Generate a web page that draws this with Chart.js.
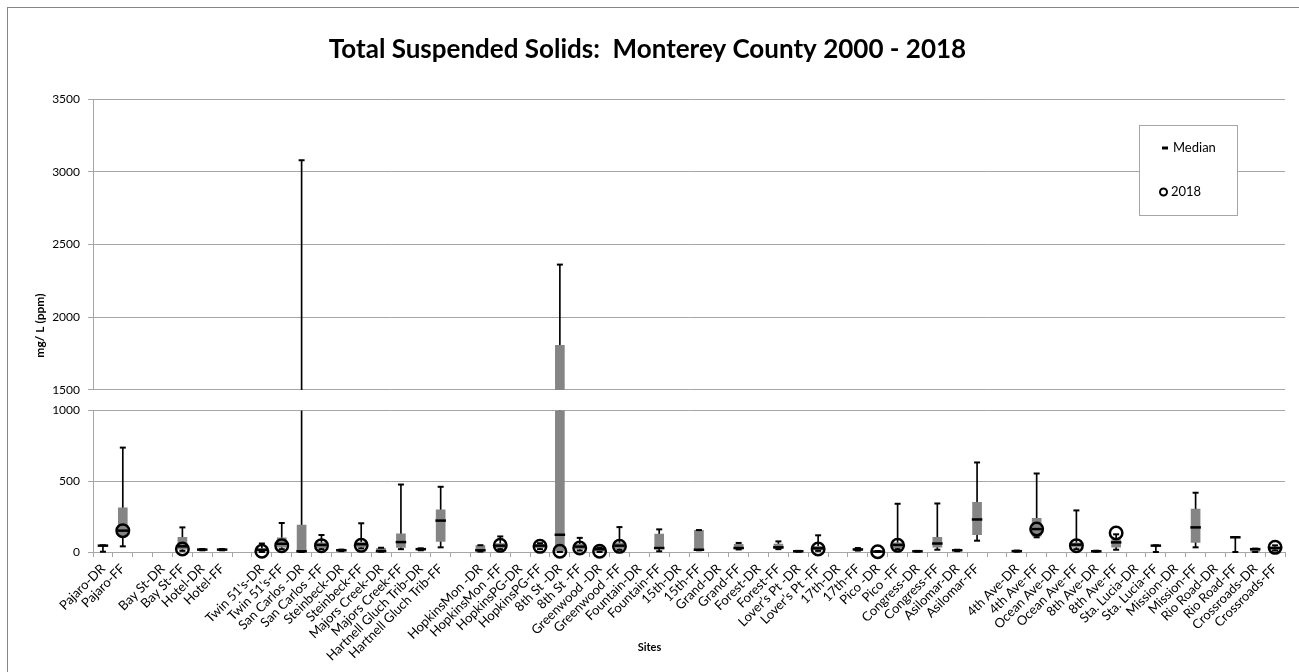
<!DOCTYPE html>
<html>
<head>
<meta charset="utf-8">
<script src="https://cdn.jsdelivr.net/npm/chart.js@4.4.1/dist/chart.umd.min.js"></script>
<style>
  html, body { margin: 0; padding: 0; background: #fff; }
  #wrap { width: 1299px; height: 672px; position: relative; }
</style>
</head>
<body>
<div id="wrap"><canvas id="tssChart"></canvas></div>
<script>
// Sites along the x axis (empty strings are spacer slots)
const sites = [
  'Pajaro-DR', 'Pajaro-FF', '', 'Bay St-DR', 'Bay St-FF', 'Hotel-DR', 'Hotel-FF', '',
  "Twin 51's-DR", "Twin 51's-FF", 'San Carlos -DR', 'San Carlos -FF', 'Steinbeck-DR', 'Steinbeck-FF',
  'Majors Creek-DR', 'Majors Creek-FF', 'Hartnell Gluch Trib-DR', 'Hartnell Gluch Trib-FF', '',
  'HopkinsMon -DR', 'HopkinsMon -FF', 'HopkinsPG-DR', 'HopkinsPG-FF', '8th St -DR', '8th St -FF',
  'Greenwood -DR', 'Greenwood -FF', 'Fountain-DR', 'Fountain-FF', '15th-DR', '15th-FF',
  'Grand-DR', 'Grand-FF', 'Forest-DR', 'Forest-FF', 'Lover\u2019s Pt -DR', 'Lover\u2019s Pt -FF',
  '17th-DR', '17th-FF', 'Pico -DR', 'Pico -FF', 'Congress-DR', 'Congress-FF', 'Asilomar-DR', 'Asilomar-FF', '',
  '4th Ave-DR', '4th Ave-FF', 'Ocean Ave-DR', 'Ocean Ave-FF', '8th Ave-DR', '8th Ave-FF',
  'Sta. Lucia-DR', 'Sta. Lucia-FF', 'Mission-DR', 'Mission-FF', 'Rio Road-DR', 'Rio Road-FF',
  'Crossroads-DR', 'Crossroads-FF'
];

// Box plot statistics, mg/L (null = no data)
const minVals = [2, 40, null, null, 8, 12, 12, null, 0, 20, 0, 20, 6, 25, 2, 20, 12, 33, null,
  3, 20, null, 20, 0, 10, 0, 15, null, 5, null, 12, null, 18, null, 20, 2, 8, null, 10, 0, 20, 2, 16, 6, 80, null,
  2, 104, null, 20, 2, 16, null, 0, null, 33, null, 0, 0, 10];
const q1Vals = [44, 110, null, null, 20, 14, 14, null, 5, 35, 2, 30, 10, 35, 4, 33, 15, 75, null,
  8, 30, null, 30, 5, 20, 5, 25, null, 22, null, 14, null, 22, null, 24, 3, 15, null, 14, 1, 30, 3, 35, 9, 122, null,
  4, 112, null, 35, 4, 35, null, 44, null, 68, null, 102, 4, 20];
const medVals = [45, 151, null, null, 40, 17, 17, null, 15, 58, 5, 50, 12, 55, 6, 70, 20, 222, null,
  12, 45, null, 45, 122, 38, 20, 45, null, 28, null, 16, null, 28, null, 33, 5, 26, null, 18, 3, 50, 5, 60, 12, 230, null,
  6, 162, null, 52, 5, 68, null, 45, null, 174, null, 104, 20, 28];
const q3Vals = [46, 312, null, null, 104, 19, 19, null, 25, 100, 190, 65, 15, 70, 26, 128, 24, 299, null,
  45, 60, null, 55, 1807, 55, 28, 65, null, 127, null, 153, null, 55, null, 56, 6, 40, null, 22, 5, 65, 6, 104, 14, 352, null,
  8, 238, null, 65, 7, 88, null, 46, null, 303, null, 105, 22, 36];
const maxVals = [47, 738, null, null, 174, 21, 21, null, 60, 205, 3080, 120, 17, 203, 30, 477, 26, 461, null,
  48, 110, null, 62, 2362, 100, 32, 176, null, 160, null, 155, null, 64, null, 75, 8, 118, null, 28, 7, 341, 8, 343, 16, 633, null,
  10, 555, null, 294, 9, 125, null, 47, null, 419, null, 106, 24, 47];
const vals2018 = [null, 151, null, null, 21, null, null, null, 5, 45, null, 45, null, 47, null, null, null, null, null,
  null, 47, null, 40, 5, 28, 5, 40, null, null, null, null, null, null, null, null, null, 21, null, null, 2, 47, null, null, null, null, null,
  null, 162, null, 45, null, 134, null, null, null, null, null, null, null, 33];

// Broken y axis: lower part 0-1000, upper part 1500-3500
const yLowTicks = [0, 1000];
const yHighTicks = [1500, 3500];
const LOW_MAX = yLowTicks[1];
const UP_MIN = yHighTicks[0];

const lowRange = (lo, hi) => sites.map((s, i) => lo[i] == null ? null : [lo[i], Math.min(hi[i], LOW_MAX)]);
const upRange = (hi) => sites.map((s, i) => hi[i] > LOW_MAX ? [UP_MIN, hi[i]] : null);

const GRID = '#a6a6a6';
const BOX = '#858585';

Chart.defaults.font.family = 'Lato';
Chart.defaults.color = '#000';

// White background, outer frame, axis titles and the legend box
const decorPlugin = {
  id: 'decor',
  beforeDraw(chart) {
    const ctx = chart.ctx;
    ctx.save();
    ctx.fillStyle = '#fff';
    ctx.fillRect(0, 0, chart.width, chart.height);
    ctx.strokeStyle = '#868686';
    ctx.lineWidth = 1;
    ctx.strokeRect(7.5, 7.5, chart.width + 10, chart.height + 10);
    ctx.restore();
  },
  afterDraw(chart) {
    const ctx = chart.ctx;
    const area = chart.chartArea;
    ctx.save();
    ctx.font = 'bold 11px Lato';
    ctx.fillStyle = '#000';
    ctx.textAlign = 'center';
    ctx.textBaseline = 'middle';
    ctx.fillText('Sites', chart.width / 2, 647);
    // y axis title
    ctx.translate(40, (area.top + area.bottom) / 2);
    ctx.rotate(-Math.PI / 2);
    ctx.font = 'bold 12px Lato';
    ctx.fillText('mg/ L (ppm)', 0, 0);
    ctx.restore();

    // legend
    ctx.save();
    ctx.fillStyle = '#fff';
    ctx.fillRect(1139.5, 125.5, 98, 90);
    ctx.strokeStyle = GRID;
    ctx.lineWidth = 1;
    ctx.strokeRect(1139.5, 125.5, 98, 90);
    ctx.strokeStyle = '#000';
    ctx.lineWidth = 3;
    ctx.beginPath();
    ctx.moveTo(1162, 148);
    ctx.lineTo(1168, 148);
    ctx.stroke();
    ctx.lineWidth = 2;
    ctx.beginPath();
    ctx.arc(1163.5, 192, 3.5, 0, Math.PI * 2);
    ctx.stroke();
    ctx.font = '13px Lato';
    ctx.fillStyle = '#000';
    ctx.textBaseline = 'middle';
    ctx.fillText('Median', 1173, 148);
    ctx.fillText('2018', 1171, 192);
    ctx.restore();
  }
};

const plainTick = (value) => String(value);

const ctx = document.getElementById('tssChart').getContext('2d');
new Chart(ctx, {
  type: 'bar',
  data: {
    labels: sites,
    datasets: [
      {
        type: 'line', label: '2018', data: vals2018, yAxisID: 'y', order: 0,
        showLine: false, pointRadius: 6.25, pointBorderWidth: 2.5,
        pointBorderColor: '#000', pointBackgroundColor: 'rgba(0,0,0,0)', clip: false
      },
      {
        type: 'line', label: 'Median', data: medVals, yAxisID: 'y', order: 1,
        showLine: false, pointStyle: 'line', pointRadius: 5.25, pointBorderWidth: 2.5,
        pointBorderColor: '#000', clip: false
      },
      {
        type: 'line', label: 'min cap', data: minVals, yAxisID: 'y', order: 2,
        showLine: false, pointStyle: 'line', pointRadius: 3, pointBorderWidth: 2,
        pointBorderColor: '#000', clip: false
      },
      {
        type: 'line', label: 'max cap', data: maxVals.map(v => v != null && v <= LOW_MAX ? v : null), yAxisID: 'y', order: 2,
        showLine: false, pointStyle: 'line', pointRadius: 3, pointBorderWidth: 2,
        pointBorderColor: '#000', clip: false
      },
      {
        type: 'line', label: 'max cap high', data: maxVals.map(v => v > LOW_MAX ? v : null), yAxisID: 'y2', order: 2,
        showLine: false, pointStyle: 'line', pointRadius: 3, pointBorderWidth: 2,
        pointBorderColor: '#000', clip: false
      },
      {
        label: 'box', data: lowRange(q1Vals, q3Vals), yAxisID: 'y', order: 3,
        grouped: false, barThickness: 9, backgroundColor: BOX
      },
      {
        label: 'box high', data: upRange(q3Vals), yAxisID: 'y2', order: 3,
        grouped: false, barThickness: 9, backgroundColor: BOX
      },
      {
        label: 'whisker', data: lowRange(minVals, maxVals), yAxisID: 'y', order: 4,
        grouped: false, barThickness: 1, backgroundColor: '#000'
      },
      {
        label: 'whisker high', data: upRange(maxVals), yAxisID: 'y2', order: 4,
        grouped: false, barThickness: 1, backgroundColor: '#000'
      }
    ]
  },
  options: {
    responsive: true,
    maintainAspectRatio: false,
    animation: false,
    events: [],
    layout: { padding: { left: 10, right: 14, top: 0, bottom: 0 } },
    plugins: {
      legend: { display: false },
      tooltip: { enabled: false },
      title: {
        display: true,
        text: 'Total Suspended Solids:  Monterey County 2000 - 2018',
        font: { size: 26, weight: 'bold' },
        color: '#000',
        padding: { top: 34, bottom: 34 }
      }
    },
    scales: {
      x: {
        type: 'category',
        offset: true,
        grid: { display: true, drawOnChartArea: false, drawTicks: true, tickLength: 5, color: GRID, offset: true },
        border: { color: GRID },
        ticks: { autoSkip: false, minRotation: 45, maxRotation: 45, font: { size: 13 }, padding: 4 },
        afterFit(scale) { scale.height = 120; }
      },
      y: {
        type: 'linear', position: 'left', stack: 'tss', stackWeight: 141.6, weight: 1,
        min: yLowTicks[0], max: yLowTicks[1],
        ticks: { stepSize: 500, font: { size: 12 }, padding: 8, callback: plainTick },
        grid: { color: GRID, tickLength: 5 },
        border: { color: GRID },
        afterFit(scale) { scale.width = 83; }
      },
      gap: {
        type: 'linear', position: 'left', stack: 'tss', stackWeight: 20.7, weight: 2,
        display: false,
        afterFit(scale) { scale.width = 83; }
      },
      y2: {
        type: 'linear', position: 'left', stack: 'tss', stackWeight: 291, weight: 3,
        min: yHighTicks[0], max: yHighTicks[1],
        ticks: { stepSize: 500, font: { size: 12 }, padding: 8, callback: plainTick },
        grid: { color: GRID, tickLength: 5 },
        border: { color: GRID },
        afterFit(scale) { scale.width = 83; }
      }
    }
  },
  plugins: [decorPlugin]
});
</script>
</body>
</html>
